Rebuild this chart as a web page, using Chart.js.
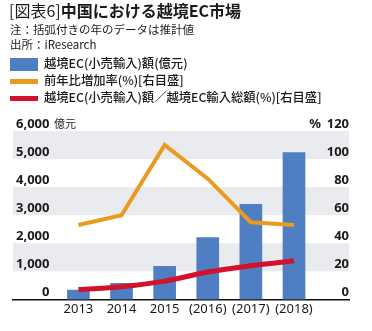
<!DOCTYPE html>
<html>
<head>
<meta charset="utf-8">
<script src="https://cdn.jsdelivr.net/npm/chart.js@4"></script>
<style>
  html, body { margin: 0; padding: 0; background: #fff; }
  body { width: 372px; height: 331px; position: relative; overflow: hidden;
         font-family: "Noto Sans CJK JP", sans-serif; color: #1a1a1a; }
  #chart { position: absolute; left: 0; top: 0; }
  .txt { position: absolute; white-space: nowrap; line-height: 1; }
  .title { left: 9px; top: 2px; font-size: 16px; font-weight: 700; }
  .title span { font-weight: 400; }
  .note { left: 10px; font-size: 11.5px; }
  .leg { left: 44px; font-size: 12.3px; font-weight: 500; }
  .sw { position: absolute; left: 10px; width: 28px; }
</style>
</head>
<body>
<canvas id="chart" width="372" height="331"></canvas>

<div class="txt title"><span>[図表6]</span>中国における越境EC市場</div>
<div class="txt note" style="top:24px">注：括弧付きの年のデータは推計値</div>
<div class="txt note" style="top:39px">出所：iResearch</div>

<div class="sw" style="top:58px;height:13px;background:#4f7fc2"></div>
<div class="txt leg" style="top:57px">越境EC(小売輸入)額(億元)</div>
<div class="sw" style="top:79px;height:5px;background:#e99b1f"></div>
<div class="txt leg" style="top:74px">前年比増加率(%)[右目盛]</div>
<div class="sw" style="top:96px;height:5px;background:#d2112b"></div>
<div class="txt leg" style="top:91px">越境EC(小売輸入)額／越境EC輸入総額(%)[右目盛]</div>

<script>
// ── data ──────────────────────────────
const years        = ['2013', '2014', '2015', '(2016)', '(2017)', '(2018)'];
const marketSize   = [330, 570, 1180, 2200, 3390, 5230];   // 億元 (left axis)
const growthRate   = [53, 60, 110, 86, 55, 53];            // % (right axis)
const shareOfTotal = [7, 9, 13, 19.5, 24, 27.5];           // % (right axis)
const leftTicks    = [0, 1000, 2000, 3000, 4000, 5000, 6000];
const rightTicks   = [0, 20, 40, 60, 80, 100, 120];

const pts = arr => arr.map((v, i) => ({ x: i, y: v }));

Chart.defaults.font.family = '"Noto Sans", "Noto Sans CJK JP", sans-serif';
Chart.defaults.color = '#1a1a1a';

// alternating grey bands behind the plot
const bandPlugin = {
  id: 'bands',
  beforeDraw(chart) {
    const { ctx, chartArea: a, scales: { y } } = chart;
    ctx.save();
    ctx.fillStyle = '#e9ebee';
    for (let i = 1; i < leftTicks.length - 1; i += 2) {
      const top = y.getPixelForValue(leftTicks[i + 1]);
      const bot = y.getPixelForValue(leftTicks[i]);
      ctx.fillRect(a.left, top, a.right - a.left, bot - top);
    }
    ctx.restore();
  }
};

// unit captions next to the top ticks
const unitPlugin = {
  id: 'units',
  afterDraw(chart) {
    const { ctx, chartArea: a, scales: { y, y2 } } = chart;
    ctx.save();
    ctx.textBaseline = 'middle';
    ctx.fillStyle = '#1a1a1a';
    ctx.font = '11px "Noto Sans CJK JP"';
    ctx.textAlign = 'left';
    ctx.fillText('億元', a.left + 41, y.getPixelForValue(6000) - 7);
    ctx.font = 'bold 13px "Noto Sans"';
    ctx.textAlign = 'right';
    ctx.fillText('%', a.right - 28, y2.getPixelForValue(120) - 7);
    ctx.restore();
  }
};

new Chart(document.getElementById('chart'), {
  type: 'bar',
  data: {
    datasets: [
      {
        type: 'line',
        data: pts(shareOfTotal),
        yAxisID: 'y2',
        borderColor: '#d2112b',
        borderWidth: 5,
        pointRadius: 0,
        tension: 0.35,
        order: 1
      },
      {
        type: 'line',
        data: pts(growthRate),
        yAxisID: 'y2',
        borderColor: '#e99b1f',
        borderWidth: 4,
        borderJoinStyle: 'miter',
        pointRadius: 0,
        tension: 0,
        order: 2
      },
      {
        type: 'bar',
        data: pts(marketSize),
        yAxisID: 'y',
        backgroundColor: '#4f7fc2',
        barThickness: 22,
        order: 3
      }
    ]
  },
  options: {
    responsive: false,
    animation: false,
    events: [],
    layout: { padding: { left: 7, right: 23, top: 131, bottom: 12 } },
    plugins: { legend: { display: false }, tooltip: { enabled: false } },
    scales: {
      x: {
        type: 'linear',
        offset: false,
        min: -1.517,
        max: 6.276,
        afterBuildTicks: s => { s.ticks = years.map((_, i) => ({ value: i })); },
        ticks: {
          autoSkip: false,
          maxRotation: 0,
          padding: 2,
          font: { size: 13 },
          callback: v => years[v]
        },
        grid: { display: false, drawTicks: false, offset: false },
        border: { display: true, color: '#111', width: 1.5 }
      },
      y: {
        position: 'left',
        min: 0,
        max: 6000,
        afterBuildTicks: s => { s.ticks = leftTicks.map(v => ({ value: v })); },
        ticks: {
          mirror: true,
          crossAlign: 'far',
          padding: 3,
          labelOffset: -7,
          font: { size: 13, weight: 'bold' },
          callback: v => v.toLocaleString('en-US')
        },
        grid: { display: false, drawTicks: false },
        border: { display: false }
      },
      y2: {
        position: 'right',
        min: 0,
        max: 120,
        afterBuildTicks: s => { s.ticks = rightTicks.map(v => ({ value: v })); },
        ticks: {
          mirror: true,
          padding: 0,
          labelOffset: -7,
          font: { size: 13, weight: 'bold' }
        },
        grid: { display: false, drawTicks: false },
        border: { display: false }
      }
    }
  },
  plugins: [bandPlugin, unitPlugin]
});
</script>
</body>
</html>
